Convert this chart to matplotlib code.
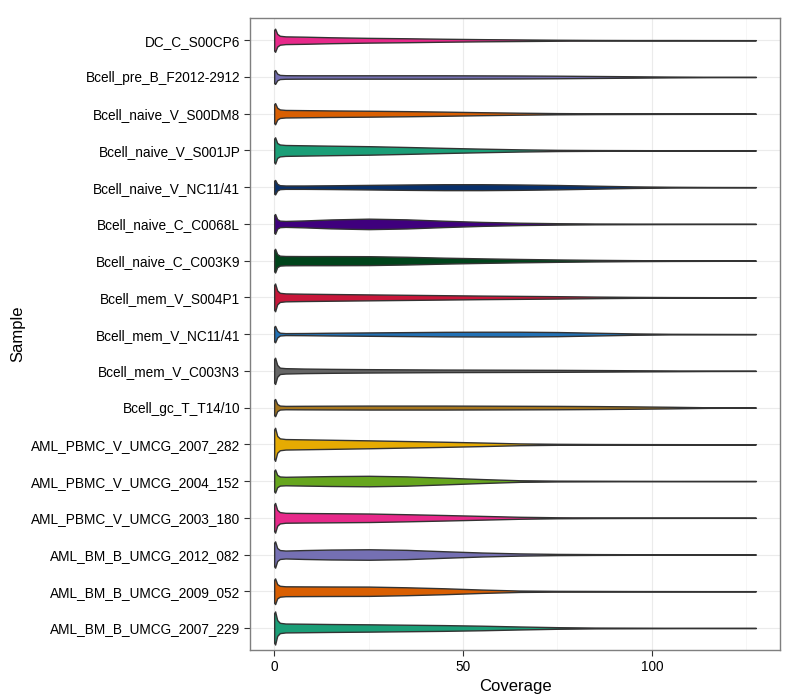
import numpy as np
import matplotlib
matplotlib.use("Agg")
import matplotlib.pyplot as plt
from matplotlib.ticker import MultipleLocator

plt.rcParams['font.family'] = ['Liberation Sans', 'DejaVu Sans']

# samples, bottom to top
samples = ["AML_BM_B_UMCG_2007_229", "AML_BM_B_UMCG_2009_052", "AML_BM_B_UMCG_2012_082",
           "AML_PBMC_V_UMCG_2003_180", "AML_PBMC_V_UMCG_2004_152", "AML_PBMC_V_UMCG_2007_282",
           "Bcell_gc_T_T14/10", "Bcell_mem_V_C003N3", "Bcell_mem_V_NC11/41", "Bcell_mem_V_S004P1",
           "Bcell_naive_C_C003K9", "Bcell_naive_C_C0068L", "Bcell_naive_V_NC11/41",
           "Bcell_naive_V_S001JP", "Bcell_naive_V_S00DM8", "Bcell_pre_B_F2012-2912", "DC_C_S00CP6"]

colors = ["#1B9E77", "#D95F02", "#7570B3", "#E7298A", "#66A61E", "#E6AB02", "#A6761D", "#666666",
          "#2271B5", "#C8173A", "#00441B", "#3F007D", "#08306B",
          "#1B9E77", "#D95F02", "#7570B3", "#E7298A"]

# coverage points where the density was read
coverage = [0, 0.25, 0.8, 1.5, 3, 8, 15, 25, 35, 45, 55, 65, 75, 85, 95, 105, 115, 127.5]

# relative density at each coverage point
density = {
    "AML_BM_B_UMCG_2007_229": [15.0, 16.7, 8.0, 5.2, 4.5, 4.3, 4.0, 3.7, 3.3, 2.9, 2.3, 1.5, 0.8, 0.4, 0.3, 0.2, 0.1, 0.1],
    "AML_BM_B_UMCG_2009_052": [11.7, 13.0, 7.2, 5.5, 5.0, 4.9, 4.8, 4.7, 4.0, 3.0, 1.7, 0.7, 0.4, 0.3, 0.2, 0.15, 0.1, 0.1],
    "AML_BM_B_UMCG_2012_082": [12.0, 13.3, 6.6, 4.5, 4.0, 4.5, 5.0, 5.3, 4.7, 3.3, 2.0, 1.1, 0.6, 0.4, 0.3, 0.2, 0.1, 0.1],
    "AML_PBMC_V_UMCG_2003_180": [13.5, 15.0, 8.0, 5.7, 5.0, 4.8, 4.6, 4.3, 3.6, 2.8, 1.9, 1.0, 0.5, 0.3, 0.2, 0.15, 0.1, 0.1],
    "AML_PBMC_V_UMCG_2004_152": [10.5, 11.7, 6.2, 4.6, 4.3, 4.6, 5.0, 5.3, 4.7, 3.4, 2.0, 0.8, 0.4, 0.3, 0.2, 0.15, 0.1, 0.1],
    "AML_PBMC_V_UMCG_2007_282": [15.0, 16.7, 8.5, 6.0, 5.3, 5.0, 4.6, 4.0, 3.3, 2.6, 1.8, 0.9, 0.5, 0.3, 0.2, 0.15, 0.1, 0.1],
    "Bcell_gc_T_T14/10": [7.8, 8.7, 3.6, 2.0, 1.7, 1.8, 1.9, 2.0, 2.0, 2.0, 1.9, 1.8, 1.7, 1.5, 1.2, 0.8, 0.3, 0.1],
    "Bcell_mem_V_C003N3": [12.0, 13.3, 6.0, 3.2, 2.7, 2.3, 2.0, 1.7, 1.5, 1.3, 1.2, 1.1, 1.0, 0.8, 0.6, 0.4, 0.2, 0.1],
    "Bcell_mem_V_NC11/41": [7.5, 8.3, 3.4, 1.4, 1.0, 1.1, 1.4, 1.7, 2.0, 2.3, 2.4, 2.4, 2.1, 1.4, 0.7, 0.3, 0.2, 0.1],
    "Bcell_mem_V_S004P1": [12.6, 14.0, 7.0, 4.6, 4.0, 3.7, 3.4, 3.0, 2.6, 2.2, 1.8, 1.5, 1.2, 0.8, 0.5, 0.3, 0.2, 0.1],
    "Bcell_naive_C_C003K9": [10.8, 12.0, 6.6, 5.0, 4.7, 4.6, 4.6, 4.5, 3.9, 3.0, 2.3, 1.7, 1.2, 0.8, 0.5, 0.3, 0.2, 0.1],
    "Bcell_naive_C_C0068L": [9.0, 10.0, 4.8, 3.3, 3.0, 3.5, 4.5, 5.3, 4.6, 3.2, 2.0, 1.2, 0.7, 0.4, 0.3, 0.2, 0.15, 0.1],
    "Bcell_naive_V_NC11/41": [6.6, 7.3, 3.4, 2.0, 1.7, 1.7, 1.9, 2.3, 2.7, 3.0, 3.0, 2.7, 2.2, 1.5, 0.8, 0.4, 0.2, 0.1],
    "Bcell_naive_V_S001JP": [12.0, 13.3, 7.5, 6.0, 5.5, 5.2, 4.8, 4.3, 3.5, 2.6, 1.8, 1.1, 0.6, 0.4, 0.3, 0.2, 0.15, 0.1],
    "Bcell_naive_V_S00DM8": [9.6, 10.7, 6.0, 4.3, 3.8, 3.6, 3.3, 3.0, 2.6, 2.1, 1.5, 1.0, 0.6, 0.4, 0.3, 0.2, 0.15, 0.1],
    "Bcell_pre_B_F2012-2912": [6.3, 7.0, 3.4, 2.1, 1.8, 1.7, 1.7, 1.7, 1.7, 1.7, 1.6, 1.5, 1.3, 1.0, 0.7, 0.4, 0.2, 0.1],
    "DC_C_S00CP6": [10.5, 11.7, 6.4, 4.5, 3.9, 3.6, 3.0, 2.4, 2.0, 1.5, 1.1, 0.8, 0.5, 0.3, 0.2, 0.2, 0.15, 0.1],
}

fig = plt.figure(figsize=(8, 7), dpi=100)
ax = fig.add_axes([0.3125, 0.0714, 0.6625, 0.9026])

# widest violin gets 0.9 of a row, like ggplot
dmax = max(max(v) for v in density.values())
cov = np.array(coverage)
for i, (name, col) in enumerate(zip(samples, colors)):
    y = i + 1
    w = np.array(density[name]) / dmax * 0.45
    ax.fill_between(cov, y - w, y + w, facecolor=col, edgecolor="#333333",
                    linewidth=1.0, zorder=3)

ax.set_xlim(-6.4, 133.9)
ax.set_ylim(0.4, len(samples) + 0.6)
ax.set_yticks(range(1, len(samples) + 1))
ax.set_yticklabels(samples)
ax.xaxis.set_major_locator(MultipleLocator(50))
ax.xaxis.set_minor_locator(MultipleLocator(25))

ax.grid(True, which="major", color="#EBEBEB", linewidth=0.8, zorder=0)
ax.grid(True, which="minor", axis="x", color="#F5F5F5", linewidth=0.6, zorder=0)
ax.set_axisbelow(True)
for s in ax.spines.values():
    s.set_color("#7F7F7F")
    s.set_linewidth(1.0)
ax.tick_params(which="major", length=4, color="#333333", labelsize=9.8, labelcolor="black", pad=3)
ax.tick_params(which="minor", length=0)

ax.set_xlabel("Coverage", fontsize=12, labelpad=4)
ax.set_ylabel("Sample", fontsize=12, labelpad=4)

fig.savefig("out.png", dpi=100)
